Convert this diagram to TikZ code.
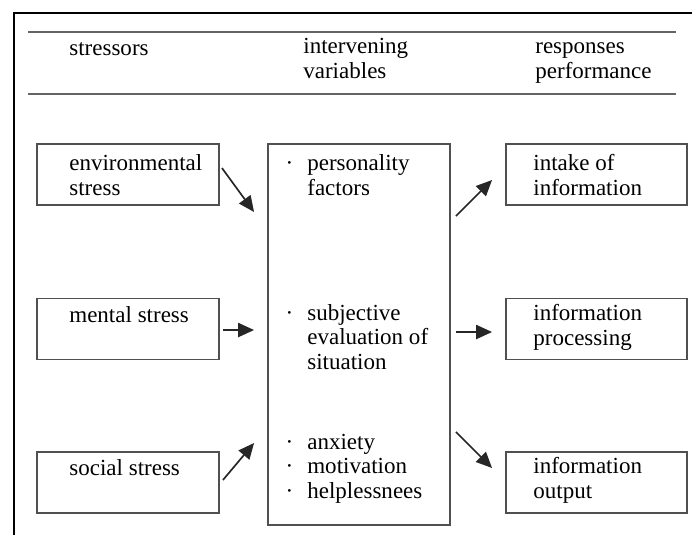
\documentclass[tikz,border=0pt]{standalone}
\usepackage{fontspec}
\setmainfont{Liberation Serif}
\usetikzlibrary{arrows.meta,positioning}
\definecolor{boxgray}{RGB}{80,80,80}
\definecolor{rulegray}{RGB}{100,100,100}
\tikzstyle{stressbox}=[draw=boxgray,line width=1.1pt,minimum width=3.64cm,minimum height=1.22cm,inner sep=0pt]
% base anchor sits on the last line of the text
\tikzstyle{boxtext}=[anchor=base west,align=left,inner sep=0pt,font=\fontsize{13.1}{13.7}\selectfont]
\tikzstyle{flow}=[draw=black!85,line width=0.95pt,-{Triangle[length=9pt,width=8pt]}]
\newcommand{\itm}{\llap{\textperiodcentered\hspace{8pt}}}

\begin{document}
\begin{tikzpicture}[x=0.02cm,y=-0.02cm]
  \useasboundingbox (0,0) rectangle (692,535);

  % frame
  \draw[line width=1.1pt] (14,535) -- (14,13) -- (692,13);

  % header
  \draw[rulegray,line width=1.5pt] (28,32) -- (676,32);
  \draw[rulegray,line width=1.5pt] (28,94) -- (676,94);
  \node[boxtext] (hstress) at (69,55) {stressors};
  \node[boxtext] (hinter) at (303,78) {intervening\\variables};
  \node[boxtext] (hresp) at (535,78) {responses\\performance};

  % stressors
  \node[stressbox] (env) at (128,174.5) {};
  \node[stressbox] (mental) at (128,329) {};
  \node[stressbox] (social) at (128,482.5) {};
  \node[boxtext] (envtxt) at (69,195) {environmental\\stress};
  \node[boxtext] (mentaltxt) at (69,322) {mental stress};
  \node[boxtext] (socialtxt) at (69,475) {social stress};

  % intervening variables
  \node[stressbox,minimum height=7.62cm] (mid) at (359,334.5) {};
  \node[boxtext] (perstxt) at (307,195) {\itm personality\\factors};
  \node[boxtext] (subjtxt) at (307,369) {\itm subjective\\evaluation of\\situation};
  \node[boxtext] (anxtxt) at (307,498) {\itm anxiety\\\itm motivation\\\itm helplessnees};

  % responses
  \node[stressbox,minimum width=3.62cm] (intake) at (596.5,174.5) {};
  \node[stressbox,minimum width=3.62cm] (proc) at (596.5,329) {};
  \node[stressbox,minimum width=3.62cm] (output) at (596.5,482.5) {};
  \node[boxtext] (intaketxt) at (533,195) {intake of\\information};
  \node[boxtext] (proctxt) at (533,345) {information\\processing};
  \node[boxtext] (outputtxt) at (533,498) {information\\output};

  % arrows
  \draw[flow] ([shift={(2,-6.5)}]env.east) -- ([shift={(-13,-122.5)}]mid.west);
  \draw[flow] ([shift={(3,1)}]mental.east) -- ([shift={(-13,-4.5)}]mid.west);
  \draw[flow] ([shift={(3,-2.5)}]social.east) -- ([shift={(-13,108.5)}]mid.west);
  \draw[flow] ([shift={(5,-118.5)}]mid.east) -- ([shift={(-13,5.5)}]intake.west);
  \draw[flow] ([shift={(5,-2.5)}]mid.east) -- ([shift={(-13,3)}]proc.west);
  \draw[flow] ([shift={(5,97.5)}]mid.east) -- ([shift={(-13,-14.5)}]output.west);

\end{tikzpicture}
\end{document}
